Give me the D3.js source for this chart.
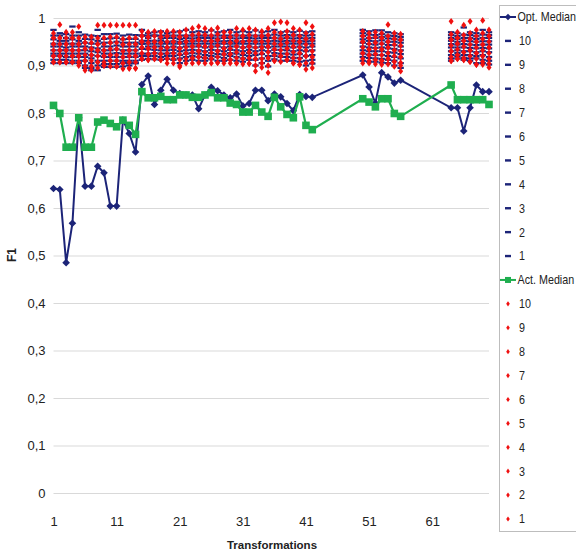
<!DOCTYPE html>
<html>
<head>
<meta charset="utf-8">
<script src="https://cdn.jsdelivr.net/npm/d3@7"></script>
<style>
  body { margin: 0; background: #fff; }
  svg { display: block; font-family: "Liberation Sans", Arial, sans-serif; }
</style>
</head>
<body>
<div id="chart"></div>
<script>
// F1 per transformation: medians + individual runs

const transformations = d3.range(1, 71);
const xTickLabels = [1, 11, 21, 31, 41, 51, 61];

const optMedian = [
  .641, .639, .485, .568, .79, .646, .646, .688, .674, .604,
  .604, .785, .757, .718, .86, .878, .818, .848, .871, .848,
  .841, .838, .838, .809, .838, .854, .847, .838, .832, .84,
  .815, .82, .848, .848, .826, .84, .834, .82, .805, .839,
  .835, .833, null, null, null, null, null, null, null, .88,
  .855, .821, .885, .876, .863, .869, null, null, null, null,
  null, null, null, .811, .811, .762, .811, .859, .845, .845
];

const actMedian = [
  .816, .799, .728, .728, .79, .728, .728, .781, .785, .778,
  .771, .785, .774, .755, .845, .832, .832, .835, .828, .828,
  .838, .838, .833, .833, .838, .843, .832, .832, .821, .818,
  .802, .802, .816, .802, .793, .833, .813, .797, .79, .834,
  .774, .765, null, null, null, null, null, null, null, .83,
  .823, .813, .83, .83, .799, .793, null, null, null, null,
  null, null, null, .859, .828, .828, .828, .828, .828, .818
];

// one row per transformation, runs 10..1 (null = not run)
const optRuns = [
  [.975,.963,.955,.946,.94,.932,.925,.92,.912,.905],
  [.968,.963,.952,.946,.94,.932,.925,.92,.912,.905],
  [.966,.958,.952,.946,.938,.932,.925,.918,.912,.905],
  [.982,.963,.955,.946,.94,.932,.925,.918,.91,.905],
  [.97,.963,.952,.946,.94,.932,.925,.918,.91,.905],
  [.965,.956,.948,.94,.932,.925,.918,.91,.9,.895],
  [.963,.955,.946,.938,.93,.922,.915,.905,.895,.89],
  [.975,.962,.952,.946,.936,.928,.92,.91,.9,.89],
  [.966,.956,.948,.94,.932,.925,.918,.91,.903,.897],
  [.966,.957,.948,.94,.932,.925,.918,.91,.903,.897],
  [.967,.958,.95,.942,.934,.926,.918,.91,.903,.897],
  [.963,.955,.948,.94,.932,.925,.918,.91,.905,.898],
  [.965,.956,.948,.94,.932,.925,.918,.91,.905,.9],
  [.964,.956,.948,.94,.932,.925,.918,.91,.905,.905],
  [.975,.963,.963,.952,.946,.946,.935,.925,.92,.912],
  [.968,.963,.958,.952,.946,.94,.934,.925,.92,.914],
  [.97,.963,.963,.952,.946,.94,.933,.926,.92,.913],
  [.972,.963,.957,.952,.946,.94,.932,.925,.918,.912],
  [.968,.963,.958,.95,.946,.938,.932,.925,.92,.914],
  [.97,.963,.958,.951,.946,.94,.933,.926,.92,.912],
  [.972,.963,.956,.95,.946,.938,.93,.922,.915,.905],
  [.975,.963,.958,.952,.946,.94,.932,.925,.918,.91],
  [.97,.963,.957,.951,.946,.94,.933,.926,.92,.912],
  [.972,.963,.958,.952,.946,.94,.932,.925,.918,.91],
  [.97,.963,.958,.951,.946,.938,.93,.922,.916,.91],
  [.974,.963,.958,.952,.946,.94,.933,.926,.92,.913],
  [.97,.963,.957,.951,.946,.94,.932,.924,.918,.91],
  [.972,.963,.958,.951,.946,.938,.93,.923,.916,.91],
  [.975,.963,.958,.952,.946,.94,.933,.926,.92,.912],
  [.97,.963,.957,.95,.946,.94,.932,.925,.918,.91],
  [.972,.963,.958,.951,.946,.938,.93,.922,.915,.908],
  [.97,.963,.958,.952,.946,.94,.933,.926,.92,.912],
  [.974,.963,.957,.951,.946,.938,.93,.922,.912,.9],
  [.97,.963,.958,.952,.946,.94,.932,.924,.915,.905],
  [.972,.963,.958,.951,.946,.938,.93,.92,.91,.898],
  [.975,.965,.958,.952,.946,.94,.933,.926,.92,.913],
  [.97,.963,.957,.951,.946,.94,.933,.925,.918,.91],
  [.972,.964,.958,.952,.946,.94,.932,.925,.918,.91],
  [.97,.963,.957,.951,.946,.938,.93,.923,.916,.91],
  [.973,.964,.958,.952,.946,.94,.932,.924,.916,.908],
  [.97,.963,.957,.951,.946,.938,.93,.92,.91,.9],
  [.972,.964,.958,.952,.946,.94,.932,.922,.912,.904],
  null, null, null, null, null, null, null,
  [.975,.968,.962,.955,.948,.94,.932,.925,.918,.91],
  [.972,.965,.958,.952,.945,.938,.93,.923,.916,.908],
  [.974,.964,.958,.951,.944,.937,.93,.922,.915,.908],
  [.974,.966,.96,.953,.946,.938,.93,.922,.914,.906],
  [.97,.963,.957,.95,.943,.936,.928,.92,.912,.905],
  [.968,.962,.956,.95,.943,.935,.927,.918,.91,.9],
  [.966,.96,.954,.948,.94,.932,.924,.915,.905,.895],
  null, null, null, null, null, null, null,
  [.97,.964,.958,.952,.945,.938,.93,.922,.915,.91],
  [.968,.962,.956,.95,.944,.938,.932,.926,.92,.915],
  [.98,.965,.958,.952,.945,.938,.93,.922,.916,.912],
  [.97,.964,.958,.951,.944,.937,.93,.922,.915,.91],
  [.968,.962,.956,.95,.943,.936,.928,.92,.915,.905],
  [.975,.965,.958,.951,.944,.937,.93,.922,.912,.905],
  [.97,.964,.958,.951,.944,.936,.928,.918,.91,.902]
];

const actRuns = [
  [.968,.958,.958,.945,.945,.932,.92,.92,.907,.907],
  [.986,.958,.958,.945,.932,.932,.92,.92,.907,.907],
  [.97,.958,.945,.945,.932,.932,.92,.907,.907,.907],
  [.97,.958,.958,.945,.932,.932,.92,.92,.907,.907],
  [.982,.958,.945,.945,.932,.92,.92,.907,.907,.9],
  [.96,.948,.948,.935,.935,.922,.91,.91,.898,.89],
  [.96,.948,.935,.935,.922,.922,.91,.898,.898,.89],
  [.985,.958,.945,.945,.932,.932,.92,.907,.907,.895],
  [.985,.958,.945,.932,.932,.92,.92,.907,.9,.9],
  [.985,.96,.948,.948,.935,.922,.922,.91,.91,.898],
  [.985,.96,.948,.935,.935,.922,.91,.91,.898,.898],
  [.985,.956,.944,.944,.93,.918,.918,.905,.905,.893],
  [.985,.958,.945,.932,.932,.92,.907,.907,.894,.894],
  [.985,.958,.945,.945,.932,.92,.92,.907,.894,.894],
  [.972,.962,.962,.95,.95,.938,.938,.926,.914,.914],
  [.97,.96,.96,.948,.936,.936,.924,.924,.912,.912],
  [.972,.962,.95,.95,.938,.938,.926,.926,.914,.914],
  [.97,.96,.96,.948,.948,.936,.924,.924,.912,.912],
  [.972,.962,.962,.95,.938,.938,.926,.914,.914,.905],
  [.972,.962,.95,.95,.938,.926,.926,.914,.914,.905],
  [.97,.96,.96,.948,.936,.936,.924,.912,.9,.897],
  [.975,.962,.962,.95,.95,.938,.926,.926,.914,.905],
  [.978,.964,.952,.952,.94,.94,.928,.916,.916,.905],
  [.982,.966,.954,.954,.942,.93,.93,.918,.918,.906],
  [.978,.964,.964,.952,.94,.94,.928,.916,.916,.905],
  [.975,.963,.951,.951,.939,.939,.927,.915,.915,.905],
  [.979,.966,.954,.954,.942,.93,.93,.918,.906,.906],
  [.97,.96,.96,.948,.936,.936,.924,.924,.912,.905],
  [.97,.96,.948,.948,.936,.924,.924,.912,.912,.905],
  [.978,.964,.952,.952,.94,.94,.928,.916,.905,.905],
  [.975,.962,.962,.95,.938,.938,.926,.914,.914,.903],
  [.978,.964,.952,.94,.94,.928,.928,.916,.904,.904],
  [.975,.962,.95,.95,.938,.926,.914,.914,.9,.888],
  [.972,.962,.962,.95,.938,.938,.926,.914,.905,.896],
  [.978,.964,.952,.94,.94,.928,.916,.916,.9,.885],
  [.99,.97,.958,.958,.946,.934,.934,.922,.91,.91],
  [.992,.968,.956,.956,.944,.944,.932,.92,.92,.908],
  [.99,.972,.96,.96,.948,.936,.936,.924,.912,.912],
  [.978,.964,.964,.952,.94,.94,.928,.916,.905,.905],
  [.975,.962,.95,.95,.938,.926,.926,.914,.902,.902],
  [.99,.968,.956,.956,.944,.932,.92,.92,.905,.892],
  [.982,.966,.954,.954,.942,.93,.918,.918,.906,.895],
  null, null, null, null, null, null, null,
  [.972,.962,.962,.95,.95,.938,.926,.926,.914,.905],
  [.968,.958,.958,.946,.934,.934,.922,.922,.91,.905],
  [.97,.96,.948,.948,.936,.924,.924,.912,.912,.903],
  [.968,.958,.958,.946,.934,.934,.922,.91,.91,.902],
  [.986,.962,.95,.95,.938,.938,.926,.914,.914,.903],
  [.968,.956,.956,.944,.932,.932,.92,.908,.908,.898],
  [.966,.954,.954,.942,.93,.918,.918,.906,.9,.888],
  null, null, null, null, null, null, null,
  [.993,.966,.954,.954,.942,.93,.93,.918,.91,.91],
  [.97,.958,.958,.946,.946,.934,.922,.922,.914,.914],
  [.985,.964,.952,.952,.94,.928,.928,.916,.912,.912],
  [.993,.968,.956,.956,.944,.932,.932,.92,.908,.908],
  [.975,.962,.95,.95,.938,.926,.926,.914,.902,.902],
  [.995,.968,.956,.944,.944,.932,.92,.92,.908,.902],
  [.975,.962,.962,.95,.938,.938,.926,.914,.904,.896]
];

const runLabels = ['10','9','8','7','6','5','4','3','2','1'];

const navy = '#1c2478', green = '#1fae4f', red = '#f01010';
const W = 576, H = 559;

const svg = d3.select('#chart').append('svg').attr('width', W).attr('height', H);

const x = d3.scaleLinear().domain([1, 70]).range([53.5, 489]);
const y = d3.scaleLinear().domain([0, 1]).range([493, 18]);

const locale = d3.formatLocale({decimal: ',', thousands: '.', grouping: [3], currency: ['', '']});
const fmt = locale.format('.1~f');

// y grid + labels
const yAxis = svg.append('g')
    .attr('transform', `translate(${x.range()[0]},0)`)
    .call(d3.axisLeft(y).tickValues(y.ticks(10)).tickSize(-(x.range()[1] - x.range()[0])).tickPadding(8).tickFormat(fmt));
yAxis.select('.domain').remove();
yAxis.selectAll('line').attr('stroke', '#d9d9d9').attr('stroke-width', 1);
yAxis.selectAll('text').attr('fill', '#222').style('font-size', '13px');

// x labels
const xAxis = svg.append('g')
    .attr('transform', `translate(0,${y(0)})`)
    .call(d3.axisBottom(x).tickValues(xTickLabels).tickSize(0).tickPadding(24));
xAxis.select('.domain').remove();
xAxis.selectAll('text').attr('fill', '#222').style('font-size', '13px');

svg.append('text').attr('x', 272).attr('y', 549).attr('text-anchor', 'middle')
    .style('font-size', '11.5px').style('font-weight', 'bold').attr('fill', '#222').text('Transformations');
svg.append('text').attr('transform', 'translate(16,255) rotate(-90)').attr('text-anchor', 'middle')
    .style('font-size', '12px').style('font-weight', 'bold').attr('fill', '#222').text('F1');

const diamond = (w, h) => `M0,${-h}L${w},0L0,${h}L${-w},0Z`;

const plot = svg.append('g');

const medianPoints = arr => transformations.map((t, i) => ({t, v: arr[i]})).filter(d => d.v != null);
const line = d3.line().x(d => x(d.t)).y(d => y(d.v));

// Opt. Median
const optPts = medianPoints(optMedian);
plot.append('path').attr('d', line(optPts)).attr('fill', 'none').attr('stroke', navy).attr('stroke-width', 2);
plot.selectAll('.optm').data(optPts).join('path').attr('class', 'optm')
    .attr('transform', d => `translate(${x(d.t)},${y(d.v)})`)
    .attr('d', diamond(3.8, 3.8)).attr('fill', navy);

// opt runs as dashes
runLabels.forEach((lab, k) => {
    const pts = transformations.map((t, i) => ({t, v: optRuns[i] ? optRuns[i][k] : null})).filter(d => d.v != null);
    plot.append('g').selectAll('rect').data(pts).join('rect')
        .attr('x', d => x(d.t) - 3.2).attr('y', d => y(d.v) - 1.1)
        .attr('width', 6.4).attr('height', 2.2).attr('fill', navy);
});

// Act. Median
const actPts = medianPoints(actMedian);
plot.append('path').attr('d', line(actPts)).attr('fill', 'none').attr('stroke', green).attr('stroke-width', 2.2);
plot.selectAll('.actm').data(actPts).join('rect').attr('class', 'actm')
    .attr('x', d => x(d.t) - 3.8).attr('y', d => y(d.v) - 3.8)
    .attr('width', 7.6).attr('height', 7.6).attr('fill', green);

// act runs as red diamonds
runLabels.forEach((lab, k) => {
    const pts = transformations.map((t, i) => ({t, v: actRuns[i] ? actRuns[i][k] : null})).filter(d => d.v != null);
    plot.append('g').selectAll('path').data(pts).join('path')
        .attr('transform', d => `translate(${x(d.t)},${y(d.v)})`)
        .attr('d', diamond(2.5, 3.4)).attr('fill', red);
});

// legend
const leg = svg.append('g');
leg.append('rect').attr('x', 499.5).attr('y', 5.5).attr('width', 100).attr('height', 526)
    .attr('fill', '#fff').attr('stroke', '#bdbdbd');
const entries = [{type: 'optm', label: 'Opt. Median'}]
    .concat(runLabels.map(l => ({type: 'dash', label: l})))
    .concat([{type: 'actm', label: 'Act. Median'}])
    .concat(runLabels.map(l => ({type: 'red', label: l})));
const ly = d3.scaleLinear().domain([0, entries.length - 1]).range([17, 519]);
entries.forEach((e, i) => {
    const g = leg.append('g').attr('transform', `translate(0,${ly(i)})`);
    const cx = 508;
    if (e.type === 'optm') {
        g.append('line').attr('x1', 500).attr('x2', 516).attr('stroke', navy).attr('stroke-width', 2);
        g.append('path').attr('transform', `translate(${cx},0)`).attr('d', diamond(3.3, 3.3)).attr('fill', navy);
    } else if (e.type === 'actm') {
        g.append('line').attr('x1', 500).attr('x2', 516).attr('stroke', green).attr('stroke-width', 2);
        g.append('rect').attr('x', cx - 3).attr('y', -3).attr('width', 6).attr('height', 6).attr('fill', green);
    } else if (e.type === 'dash') {
        g.append('rect').attr('x', cx - 3).attr('y', -1.2).attr('width', 6).attr('height', 2.4).attr('fill', navy);
    } else {
        g.append('path').attr('transform', `translate(${cx},0)`).attr('d', diamond(1.8, 2.6)).attr('fill', red);
    }
    const tx = e.type === 'optm' || e.type === 'actm' ? 517.5 : 519;
    g.append('text').attr('transform', `translate(${tx},0) scale(0.86,1)`).attr('dy', '0.35em')
        .style('font-size', '12.5px').attr('fill', '#222').text(e.label);
});
</script>
</body>
</html>
